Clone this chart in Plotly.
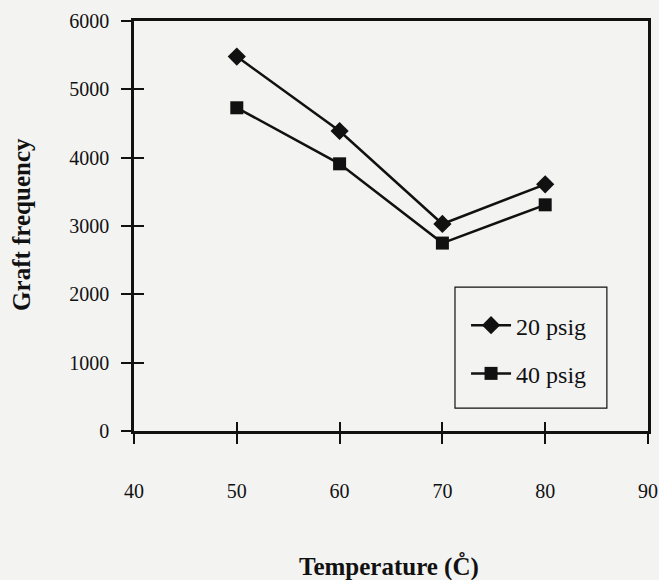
import plotly.graph_objects as go

temperature = [50, 60, 70, 80]
psig20 = [5480, 4390, 3030, 3610]
psig40 = [4730, 3910, 2750, 3310]
x_ticks = [40, 50, 60, 70, 80, 90]
y_ticks = [0, 1000, 2000, 3000, 4000, 5000, 6000]

BG = "#f3f3f2"
INK = "#111111"
FONT = "Liberation Serif, Times New Roman, serif"

fig = go.Figure()
fig.add_trace(go.Scatter(x=temperature, y=psig20, name="20 psig", mode="lines+markers",
                         line=dict(color=INK, width=2.5),
                         marker=dict(symbol="diamond", size=14, color=INK),
                         legendgroup="a"))
fig.add_trace(go.Scatter(x=temperature, y=psig40, name="40 psig", mode="lines+markers",
                         line=dict(color=INK, width=2.5),
                         marker=dict(symbol="square", size=13, color=INK),
                         legendgroup="b"))
# invisible trace to host the overlay axes (inside tick halves)
fig.add_trace(go.Scatter(x=[40], y=[0], xaxis="x2", yaxis="y2", mode="markers",
                         marker=dict(opacity=0), showlegend=False, hoverinfo="skip"))

common = dict(showgrid=False, zeroline=False, linecolor=INK, tickcolor=INK, automargin=False)
fig.update_layout(
    width=659, height=580,
    margin=dict(l=134, r=11, t=21, b=149),
    paper_bgcolor=BG, plot_bgcolor=BG,
    font=dict(family=FONT, size=20, color=INK),
    xaxis=dict(range=[40, 90], tickvals=x_ticks, ticks="outside", ticklen=10, tickwidth=1.5,
               linewidth=2.5, mirror=True, ticklabelstandoff=30,
               tickfont=dict(family=FONT, size=20, color=INK), **common),
    yaxis=dict(range=[0, 6000], tickvals=y_ticks, ticks="outside", ticklen=10, tickwidth=1.5,
               linewidth=2.5, mirror=True, ticklabelstandoff=8,
               tickfont=dict(family=FONT, size=20, color=INK), **common),
    xaxis2=dict(range=[40, 90], tickvals=x_ticks[1:-1], ticks="inside", ticklen=9, tickwidth=1.5,
                showticklabels=False, overlaying="x", showline=False, showgrid=False,
                zeroline=False, tickcolor=INK, automargin=False),
    yaxis2=dict(range=[0, 6000], tickvals=y_ticks[1:-1], ticks="inside", ticklen=10, tickwidth=1.5,
                showticklabels=False, overlaying="y", showline=False, showgrid=False,
                zeroline=False, tickcolor=INK, automargin=False),
    showlegend=True,
    legend=dict(x=0.646, y=0.312, xanchor="left", yanchor="top",
                bgcolor="rgba(0,0,0,0)", borderwidth=0,
                font=dict(family=FONT, size=24, color=INK),
                tracegroupgap=14, itemwidth=40),
    shapes=[dict(type="rect", xref="paper", yref="paper", x0=0.6245, x1=0.920,
                 y0=0.056, y1=0.351, line=dict(color=INK, width=1.2), fillcolor=BG,
                 layer="below")],
    annotations=[
        dict(text="<b>Graft frequency</b>", textangle=-90, xref="paper", yref="paper",
             x=-0.218, y=0.505, xanchor="center", yanchor="middle", showarrow=False,
             font=dict(family=FONT, size=25, color=INK)),
        dict(text="<b>Temperature (C\u030A)</b>", xref="paper", yref="paper",
             x=0.496, y=-0.329, xanchor="center", yanchor="middle", showarrow=False,
             font=dict(family=FONT, size=25, color=INK)),
    ],
)

fig.write_html("out.html", config={"displayModeBar": False},
               post_script="document.body.style.margin='0';document.body.style.background='%s';" % BG)
